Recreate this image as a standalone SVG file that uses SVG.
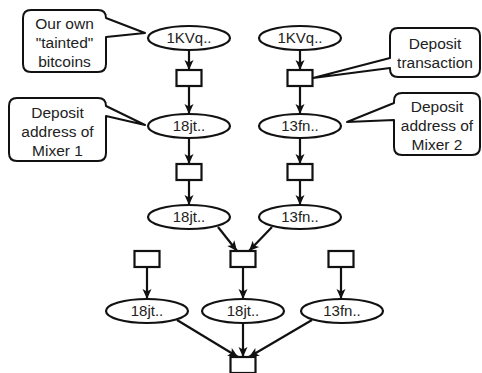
<svg xmlns="http://www.w3.org/2000/svg" width="482" height="373" viewBox="0 0 482 373">
<style>
.n ellipse{fill:#fff;stroke:#111;stroke-width:2.2}
.t rect{fill:#fff;stroke:#111;stroke-width:2.2}
.c path{fill:#fff;stroke:#111;stroke-width:2;stroke-linejoin:round}
text{font-family:"Liberation Sans",Arial,sans-serif;fill:#222;text-anchor:middle}
.n text{font-size:15px}
.c text{font-size:15.5px}
#edges line{stroke:#111;stroke-width:2.2;marker-end:url(#arr)}
</style>
<defs>
<marker id="arr" markerUnits="userSpaceOnUse" markerWidth="12" markerHeight="12" viewBox="0 0 12 12" refX="11" refY="6" orient="auto">
<path d="M1,1.5 L11,6 L1,10.5 L3.5,6 Z" fill="#111"/>
</marker>
</defs>
<rect width="482" height="373" fill="#fff"/>

<g id="edges">
<line x1="189" y1="50" x2="189" y2="70"/>
<line x1="189" y1="86" x2="189" y2="114"/>
<line x1="189" y1="138" x2="189" y2="164"/>
<line x1="189" y1="180" x2="189" y2="205"/>
<line x1="300" y1="50" x2="300" y2="70"/>
<line x1="300" y1="86" x2="300" y2="114"/>
<line x1="300" y1="138" x2="300" y2="164"/>
<line x1="300" y1="180" x2="300" y2="205"/>
<line x1="218" y1="227" x2="237" y2="251"/>
<line x1="272" y1="227" x2="249" y2="251"/>
<line x1="243" y1="267" x2="243" y2="299"/>
<line x1="147" y1="267" x2="147" y2="299"/>
<line x1="341" y1="267" x2="341" y2="299"/>
<line x1="177" y1="320" x2="238" y2="357"/>
<line x1="243" y1="323" x2="243" y2="357"/>
<line x1="312" y1="320" x2="249" y2="357"/>
</g>

<g id="a1" class="n"><ellipse cx="189" cy="38" rx="41" ry="12"/><text x="189" y="43">1KVq..</text></g>
<g id="a2" class="n"><ellipse cx="300" cy="38" rx="41" ry="12"/><text x="300" y="43">1KVq..</text></g>
<g id="t1" class="t"><rect x="176.5" y="70" width="25" height="16"/></g>
<g id="t2" class="t"><rect x="287.5" y="70" width="25" height="16"/></g>
<g id="b1" class="n"><ellipse cx="189" cy="126" rx="41" ry="12"/><text x="189" y="131">18jt..</text></g>
<g id="b2" class="n"><ellipse cx="300" cy="126" rx="41" ry="12"/><text x="300" y="131">13fn..</text></g>
<g id="t3" class="t"><rect x="176.5" y="164" width="25" height="16"/></g>
<g id="t4" class="t"><rect x="287.5" y="164" width="25" height="16"/></g>
<g id="c1" class="n"><ellipse cx="189" cy="217" rx="41" ry="12"/><text x="189" y="222">18jt..</text></g>
<g id="c2" class="n"><ellipse cx="300" cy="217" rx="41" ry="12"/><text x="300" y="222">13fn..</text></g>
<g id="t5" class="t"><rect x="134.5" y="251" width="25" height="16"/></g>
<g id="t6" class="t"><rect x="230.5" y="251" width="25" height="16"/></g>
<g id="t7" class="t"><rect x="328.5" y="251" width="25" height="16"/></g>
<g id="d1" class="n"><ellipse cx="147" cy="311" rx="41" ry="12"/><text x="147" y="316">18jt..</text></g>
<g id="d2" class="n"><ellipse cx="243" cy="311" rx="41" ry="12"/><text x="243" y="316">18jt..</text></g>
<g id="d3" class="n"><ellipse cx="342" cy="311" rx="41" ry="12"/><text x="342" y="316">13fn..</text></g>
<g id="t8" class="t"><rect x="230.5" y="357" width="25" height="16"/></g>

<g id="call1" class="c">
<path d="M31,10 H98 Q106,10 106,18 L145,33 L106,37 V64 Q106,72 98,72 H31 Q23,72 23,64 V18 Q23,10 31,10 Z"/>
<text x="64.5" y="29">Our own</text>
<text x="64.5" y="48">"tainted"</text>
<text x="64.5" y="67">bitcoins</text>
</g>
<g id="call2" class="c">
<path d="M17,98 H98 Q106,98 106,106 L145,125 L106,116 V153 Q106,161 98,161 H17 Q9,161 9,153 V106 Q9,98 17,98 Z"/>
<text x="57.5" y="118">Deposit</text>
<text x="57.5" y="137">address of</text>
<text x="57.5" y="156">Mixer 1</text>
</g>
<g id="call3" class="c">
<path d="M398,28 H472 Q480,28 480,36 V69 Q480,77 472,77 H398 Q390,77 390,69 V68 L313,78 L390,58 V36 Q390,28 398,28 Z"/>
<text x="435" y="49">Deposit</text>
<text x="435" y="68">transaction</text>
</g>
<g id="call4" class="c">
<path d="M402,93 H472 Q480,93 480,101 V147 Q480,155 472,155 H402 Q394,155 394,147 V120 L347,122 L394,103 V101 Q394,93 402,93 Z"/>
<text x="437" y="112">Deposit</text>
<text x="437" y="131">address of</text>
<text x="437" y="150">Mixer 2</text>
</g>
</svg>
